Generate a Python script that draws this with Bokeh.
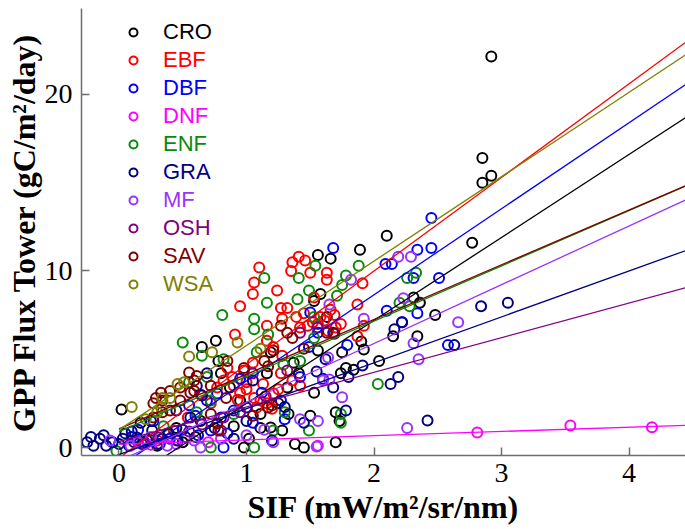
import math
from bokeh.plotting import figure
from bokeh.models import Range1d, FixedTicker, Legend, LegendItem
from bokeh.embed import file_html
from bokeh.resources import INLINE

# ---------------- data ----------------
groups = ["CRO", "EBF", "DBF", "DNF", "ENF", "GRA", "MF", "OSH", "SAV", "WSA"]
colors = ["#000000", "#FF0000", "#0000FF", "#FF00FF", "#0A8A0A",
          "#000080", "#9933FF", "#800080", "#800000", "#808000"]

cro_x = [2.92, 2.85, 2.85, 2.92, 2.77, 2.1, 1.89, 1.66, 1.56, 1.58, 1.53, 1.63, 2.31, 2.36, 2.48, 2.34, 2.15,
         1.92, 1.75, 2.04, 1.78, 1.84, 1.74, 1.7, 1.73, 1.7, 0.02, 0.65, 0.76, 0.8, 1.19, 1.56, 1.37, 1.41,
         1.53, 1.32, 1.16, 0.95, 1.11, 1.28, 1.45, 0.98, 1.19, 0.87, 0.64, 0.38, 0.78, 0.17, 1.38, 1.11,
         0.5, 0.3, 1.25, 0.9, 1.5, 1.9, 0.6, 0.45, 1.02, 1.33]
cro_y = [22.15, 16.4, 15.0, 15.4, 11.6, 12.0, 11.2, 10.7, 10.9, 8.7, 8.3, 7.4, 8.5, 8.2, 7.5, 6.3, 6.3,
         5.55, 5.4, 4.9, 4.5, 4.4, 4.2, 2.0, 1.5, 0.3, 2.15, 5.7, 6.05, 4.2, 5.4, 5.5, 4.8, 4.2,
         3.1, 3.4, 4.2, 2.66, 1.9, 0.96, 0.0, 0.0, 1.13, 3.4, 1.5, 0.8, 4.9, 1.4, 0.2, 1.1,
         0.3, 0.1, 2.5, 1.2, 1.8, 6.0, 0.6, 1.1, 0.5, 1.9]

ebf_x = [1.1, 1.06, 1.05, 0.95, 1.24, 1.36, 1.41, 1.46, 1.35, 1.5, 1.63, 1.63, 0.91, 1.16, 1.28, 1.39, 1.42,
         1.32, 1.53, 1.91, 1.87, 1.48, 1.56, 1.61, 1.69, 1.74, 1.27, 1.16, 1.21, 1.28, 0.98, 1.0, 0.9, 0.95,
         1.06, 1.11, 1.08, 1.16, 0.85, 0.89, 0.77, 0.64, 0.72, 0.54, 0.43, 0.3, 1.27, 1.36, 1.42, 1.21,
         1.87, 1.92, 1.64, 1.58, 1.66, 1.52, 1.45, 1.7, 1.0, 1.13, 0.93, 1.2, 0.82, 1.05, 1.25]
ebf_y = [10.2, 9.35, 8.7, 8.0, 8.9, 10.5, 10.8, 10.6, 10.0, 9.9, 9.9, 9.5, 6.4, 6.9, 7.3, 7.4, 6.8,
         7.9, 8.5, 9.3, 6.3, 6.9, 7.0, 7.2, 7.5, 7.0, 7.9, 6.05, 5.7, 5.2, 4.36, 3.7, 3.5, 3.1,
         2.8, 2.66, 2.27, 2.5, 4.5, 4.0, 3.4, 3.0, 2.5, 1.7, 0.96, 0.4, 4.2, 3.8, 3.5, 3.06,
         8.1, 6.9, 6.6, 7.4, 7.8, 7.1, 7.6, 6.8, 3.3, 3.6, 2.7, 2.2, 3.8, 4.8, 3.3]

dbf_x = [2.45, 2.45, 2.34, 1.68, 2.09, 2.14, 2.51, 2.31, 2.1, 2.22, 2.34, 1.68, 1.79, 2.58, 1.5, 1.56, 1.49,
         0.77, 0.69, 1.0, 1.12, 1.42, 1.27, 0.8, 0.85, 0.82, 0.72, 0.27, 0.5, 0.6, 0.4, 1.3, 1.05, 0.95,
         0.55, 0.2, 0.1, 1.6, 0.32, 0.15, 0.62, 0.9]
dbf_y = [13.0, 11.3, 11.2, 11.3, 10.4, 10.4, 9.6, 9.6, 7.75, 7.1, 7.6, 6.5, 5.8, 5.8, 7.65, 6.5, 5.7,
         3.06, 2.66, 2.27, 3.1, 4.0, 2.66, 1.7, 0.8, 0.0, 0.96, 1.5, 1.0, 1.8, 0.5, 1.6, 1.4, 3.9,
         2.4, 0.3, 0.6, 3.9, 0.2, 1.0, 0.7, 2.1]

dnf_x = [0.25, 0.45, 0.7, 1.56, 2.81, 3.54, 4.18]
dnf_y = [0.15, 0.4, 0.3, 0.1, 0.85, 1.25, 1.15]

enf_x = [1.14, 1.16, 0.81, 1.06, 1.06, 1.41, 1.4, 1.49, 1.54, 1.53, 0.5, 0.65, 1.08, 1.17, 1.78, 1.75, 1.88,
         1.71, 1.53, 1.42, 1.29, 0.72, 0.9, 0.72, 1.06, 1.21, 1.49, 1.74, 1.74, 2.03, 0.82, 0.55, 2.26,
         2.33, 2.2, 2.28, 0.69, -0.02, 0.61, 0.35, 1.3]
enf_y = [9.6, 8.2, 7.5, 7.3, 6.7, 9.6, 8.4, 8.9, 10.3, 7.4, 5.95, 5.2, 5.4, 6.4, 9.75, 9.2, 10.3,
         8.6, 6.2, 4.9, 4.7, 2.66, 1.9, 0.0, 0.0, 0.96, 0.96, 1.9, 1.4, 3.6, 5.0, 3.7, 9.6,
         9.9, 8.2, 8.0, 4.0, -0.2, 2.0, 1.2, 2.0]

gra_x = [-0.2, -0.15, -0.1, -0.05, 0.03, 0.08, 0.14, 0.18, 0.26, 0.34, 0.39, 0.46, 0.25, 0.56, 0.61, 0.65,
         0.69, 1.91, 1.8, 2.19, 2.13, 1.68, 1.78, 2.42, 2.84, 3.05, 2.63, 2.22, 2.16, -0.25, -0.12, 0.0,
         0.1, 0.22, 0.3, 0.52, 0.75, 0.9, 1.0, 1.2, 1.3, 1.45, 0.45, 1.05, 1.55, 1.62, -0.22, 0.05, 0.12]
gra_y = [0.1, 0.5, 0.1, 0.3, 0.5, 0.1, 0.57, 0.2, 0.96, 0.5, 0.8, 0.4, 1.5, 1.7, 3.5, 2.95,
         4.2, 4.65, 4.0, 4.0, 3.6, 3.4, 2.1, 1.53, 8.0, 8.2, 5.8, 7.1, 6.7, 0.3, 0.7, 0.2,
         0.9, 0.4, 0.2, 0.6, 1.1, 0.5, 1.5, 0.4, 2.3, 1.4, 2.1, 3.8, 4.3, 5.0, 0.6, 0.8, 0.3]

mf_x = [1.56, 1.42, 1.55, 1.14, 1.65, 1.64, 1.6, 1.75, 2.26, 2.31, 2.35, 2.19, 2.29, 1.82, 1.65, 2.23, 1.92,
        2.66, 1.21, 0.59, 0.64, 0.38, 0.09, -0.07, 0.15, 0.25, 0.45, 0.8, 1.0]
mf_y = [1.5, 1.6, 0.05, 1.0, 3.85, 5.1, 3.8, 2.85, 1.1, 5.9, 5.0, 10.8, 10.8, 9.5, 8.1, 8.45, 7.3,
        7.1, 0.3, 0.4, 0.0, 0.1, 0.1, 0.4, 0.3, 0.6, 0.2, 0.5, 0.7]

osh_x = [1.05, 1.32, 0.82, 0.31, 0.8, 1.56, 1.42, 0.55, 0.65, 1.15, 0.95, 0.2]
osh_y = [4.2, 4.36, 1.7, 0.57, 0.96, 6.8, 6.5, 0.9, 1.3, 2.9, 2.0, 0.2]

sav_x = [0.55, 0.61, 0.33, 0.27, 0.34, 0.4, 0.59, 1.14, 1.17, 1.21, 1.27, 1.32, 1.36, 1.63, 1.69, 0.98,
         0.85, 1.17, 1.05, 0.72, 0.77, 0.72, 0.84, 0.78, 1.2, 0.4, 0.29, 0.48, 0.34, 0.27, 0.56, 0.59,
         0.48, 1.45]
sav_y = [4.25, 4.05, 3.1, 2.5, 2.66, 2.1, 3.2, 4.9, 4.6, 5.5, 6.9, 6.5, 6.2, 6.5, 6.45, 4.5,
         4.9, 2.27, 1.8, 1.9, 1.36, 3.5, 2.8, 0.96, 2.4, 3.2, 2.8, 2.66, 2.0, 1.7, 3.1, 3.8,
         3.4, 5.6]

wsa_x = [0.1, 0.55, 0.73, 0.93, 0.34, 0.46, 0.51, 0.33, 1.11, 0.21, 0.4, 0.3]
wsa_y = [2.3, 5.15, 5.4, 5.95, 2.8, 3.6, 3.7, 2.27, 5.6, 1.6, 2.8, 2.0]

# linear fits per group (intercept, slope) and fitted range
intercepts = [-2.2, -0.6, -1.1, 0.19, 0.9, -0.4, -0.77, 0.34, 1.05, 1.0]
slopes = [4.7, 5.3, 4.875, 0.24, 3.13, 2.6, 3.33, 1.96, 3.1, 4.78]
fit_x_start = [0.3, 0.0, 0.0, 0.0, 0.0, -0.2, 0.0, 0.0, 0.0, 0.0]
fit_x_end = [4.6] * 10

x_ticks = [0, 1, 2, 3, 4]
y_ticks = [0, 10, 20]
x_title = "SIF (mW/m\u00b2/sr/nm)"
y_title = "GPP Flux Tower (gC/m\u00b2/day)"

xs = [cro_x, ebf_x, dbf_x, dnf_x, enf_x, gra_x, mf_x, osh_x, sav_x, wsa_x]
ys = [cro_y, ebf_y, dbf_y, dnf_y, enf_y, gra_y, mf_y, osh_y, sav_y, wsa_y]

# ---------------- figure ----------------
p = figure(width=685, height=529, output_backend="svg", toolbar_location=None,
           x_range=Range1d(-0.294, 4.443), y_range=Range1d(-0.453, 24.87),
           min_border_left=81, min_border_right=0, min_border_top=8, min_border_bottom=74)
p.grid.visible = False
p.outline_line_color = None
p.background_fill_color = "white"
p.border_fill_color = "white"

for ax, ticks in ((p.xaxis, x_ticks), (p.yaxis, y_ticks)):
    ax.ticker = FixedTicker(ticks=ticks)
    ax.major_tick_in = 8
    ax.major_tick_out = 0
    ax.minor_tick_line_color = None
    ax.axis_line_color = "#6E6E6E"
    ax.major_tick_line_color = "#6E6E6E"
    ax.axis_line_width = 1.5
    ax.major_tick_line_width = 1.5
    ax.major_label_text_font = "Liberation Serif"
    ax.major_label_text_font_size = "28px"
    ax.major_label_text_color = "black"
    ax.axis_label_text_font = "Liberation Serif"
    ax.axis_label_text_font_size = "32px"
    ax.axis_label_text_font_style = "bold"
    ax.axis_label_text_color = "black"
p.xaxis.major_label_standoff = 8
p.yaxis.major_label_standoff = 9
p.xaxis.axis_label_standoff = 4
p.yaxis.axis_label_standoff = 0
p.xaxis.axis_label = x_title
p.yaxis.axis_label = y_title

renderers = []
for g, c, x, y in zip(groups, colors, xs, ys):
    r = p.scatter(x, y, size=10, marker="circle", fill_color=None, line_color=c, line_width=2)
    renderers.append(r)

for c, a, b, x0, x1 in zip(colors, intercepts, slopes, fit_x_start, fit_x_end):
    p.line([x0, x1], [a + b * x0, a + b * x1], line_color=c, line_width=1.3)

# one legend per entry so each label carries its group's colour
for i, (g, c, r) in enumerate(zip(groups, colors, renderers)):
    leg = Legend(items=[LegendItem(label=g, renderers=[r])], location=(42, 410 - 28 * i),
                 border_line_color=None, background_fill_alpha=0, padding=0, margin=0, spacing=0,
                 glyph_width=20, glyph_height=26, label_height=26, label_standoff=20,
                 label_text_font="Liberation Sans", label_text_font_size="22px",
                 label_text_color=c)
    p.add_layout(leg)

open("out.html", "w").write(file_html(p, INLINE))
